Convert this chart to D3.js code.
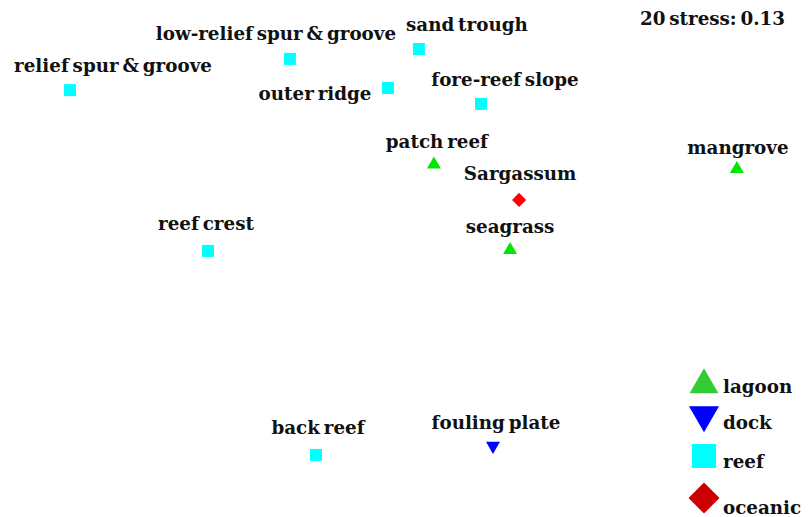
<!DOCTYPE html>
<html>
<head>
<meta charset="utf-8">
<script src="https://cdn.jsdelivr.net/npm/d3@7"></script>
<style>
  html, body { margin: 0; padding: 0; background: #fff; }
  svg { display: block; }
  text { font-family: "DejaVu Serif", "Liberation Serif", serif; font-weight: bold; fill: #111; }
</style>
</head>
<body>
<svg id="chart" width="812" height="517"></svg>
<script>
// NMDS ordination scores
const sites   = ["relief spur & groove", "low-relief spur & groove", "sand trough", "outer ridge",
                 "fore-reef slope", "patch reef", "Sargassum", "mangrove", "reef crest",
                 "seagrass", "back reef", "fouling plate"];
const habitat = ["reef", "reef", "reef", "reef", "reef", "lagoon", "oceanic", "lagoon", "reef",
                 "lagoon", "reef", "dock"];
const nmds1   = [-1.12, -0.387, 0.043, -0.06, 0.25, 0.093, 0.377, 1.103, -0.66, 0.347, -0.30, 0.29];
const nmds2   = [0.533, 0.637, 0.67, 0.54, 0.487, 0.285, 0.167, 0.27, -0.003, 0.0, -0.683, -0.653];

const groups      = ["lagoon", "dock", "reef", "oceanic"];
const stressLabel = "20 stress: 0.13";

// styling (not data)
const labelOffset = [[43,-18],[-14,-19],[48,-18],[-73,12],[24,-18],[3,-17],[1,-20],[1,-15],[-2,-21],[0,-17],[2,-21],[3,-17]];
const pointStyle = {
  lagoon:  {shape: d3.symbolTriangle, color: "#00e600", size: 85,  rot: 0},
  dock:    {shape: d3.symbolTriangle, color: "#0000ff", size: 85,  rot: 180},
  reef:    {shape: d3.symbolSquare,   color: "#00ffff", size: 144, rot: 0},
  oceanic: {shape: d3.symbolSquare,   color: "#ff0000", size: 100, rot: 45}
};
const legendStyle = {
  lagoon:  {shape: d3.symbolTriangle, color: "#33cc33", size: 360, rot: 0,   cy: 385, ty: 393},
  dock:    {shape: d3.symbolTriangle, color: "#0000ff", size: 390, rot: 180, cy: 415, ty: 429},
  reef:    {shape: d3.symbolSquare,   color: "#00ffff", size: 576, rot: 0,   cy: 456, ty: 468},
  oceanic: {shape: d3.symbolSquare,   color: "#cc0000", size: 480, rot: 45,  cy: 498, ty: 514}
};

const svg = d3.select("#chart");
const x = d3.scaleLinear().domain([-1, 1]).range([106, 706]);
const y = d3.scaleLinear().domain([-1, 1]).range([550, -50]);

const pts = sites.map((s, i) => ({name: s, hab: habitat[i], x: nmds1[i], y: nmds2[i], off: labelOffset[i]}));

const g = svg.append("g");
g.selectAll("path.pt").data(pts).join("path")
  .attr("class", "pt")
  .attr("d", d => d3.symbol().type(pointStyle[d.hab].shape).size(pointStyle[d.hab].size)())
  .attr("transform", d => `translate(${x(d.x)},${y(d.y)}) rotate(${pointStyle[d.hab].rot})`)
  .attr("fill", d => pointStyle[d.hab].color);

g.selectAll("text.lab").data(pts).join("text")
  .attr("class", "lab")
  .attr("x", d => x(d.x) + d.off[0])
  .attr("y", d => y(d.y) + d.off[1])
  .attr("text-anchor", "middle")
  .attr("font-size", 18.3)
  .attr("word-spacing", -2.5)
  .text(d => d.name);

svg.append("text")
  .attr("x", 785).attr("y", 25)
  .attr("text-anchor", "end")
  .attr("font-size", 18.3)
  .attr("word-spacing", -2.5)
  .text(stressLabel);

// legend
const leg = svg.append("g");
leg.selectAll("path").data(groups).join("path")
  .attr("d", d => d3.symbol().type(legendStyle[d].shape).size(legendStyle[d].size)())
  .attr("transform", d => `translate(704,${legendStyle[d].cy}) rotate(${legendStyle[d].rot})`)
  .attr("fill", d => legendStyle[d].color);
leg.selectAll("text").data(groups).join("text")
  .attr("x", 723)
  .attr("y", d => legendStyle[d].ty)
  .attr("font-size", 18.3)
  .text(d => d);
</script>
</body>
</html>
